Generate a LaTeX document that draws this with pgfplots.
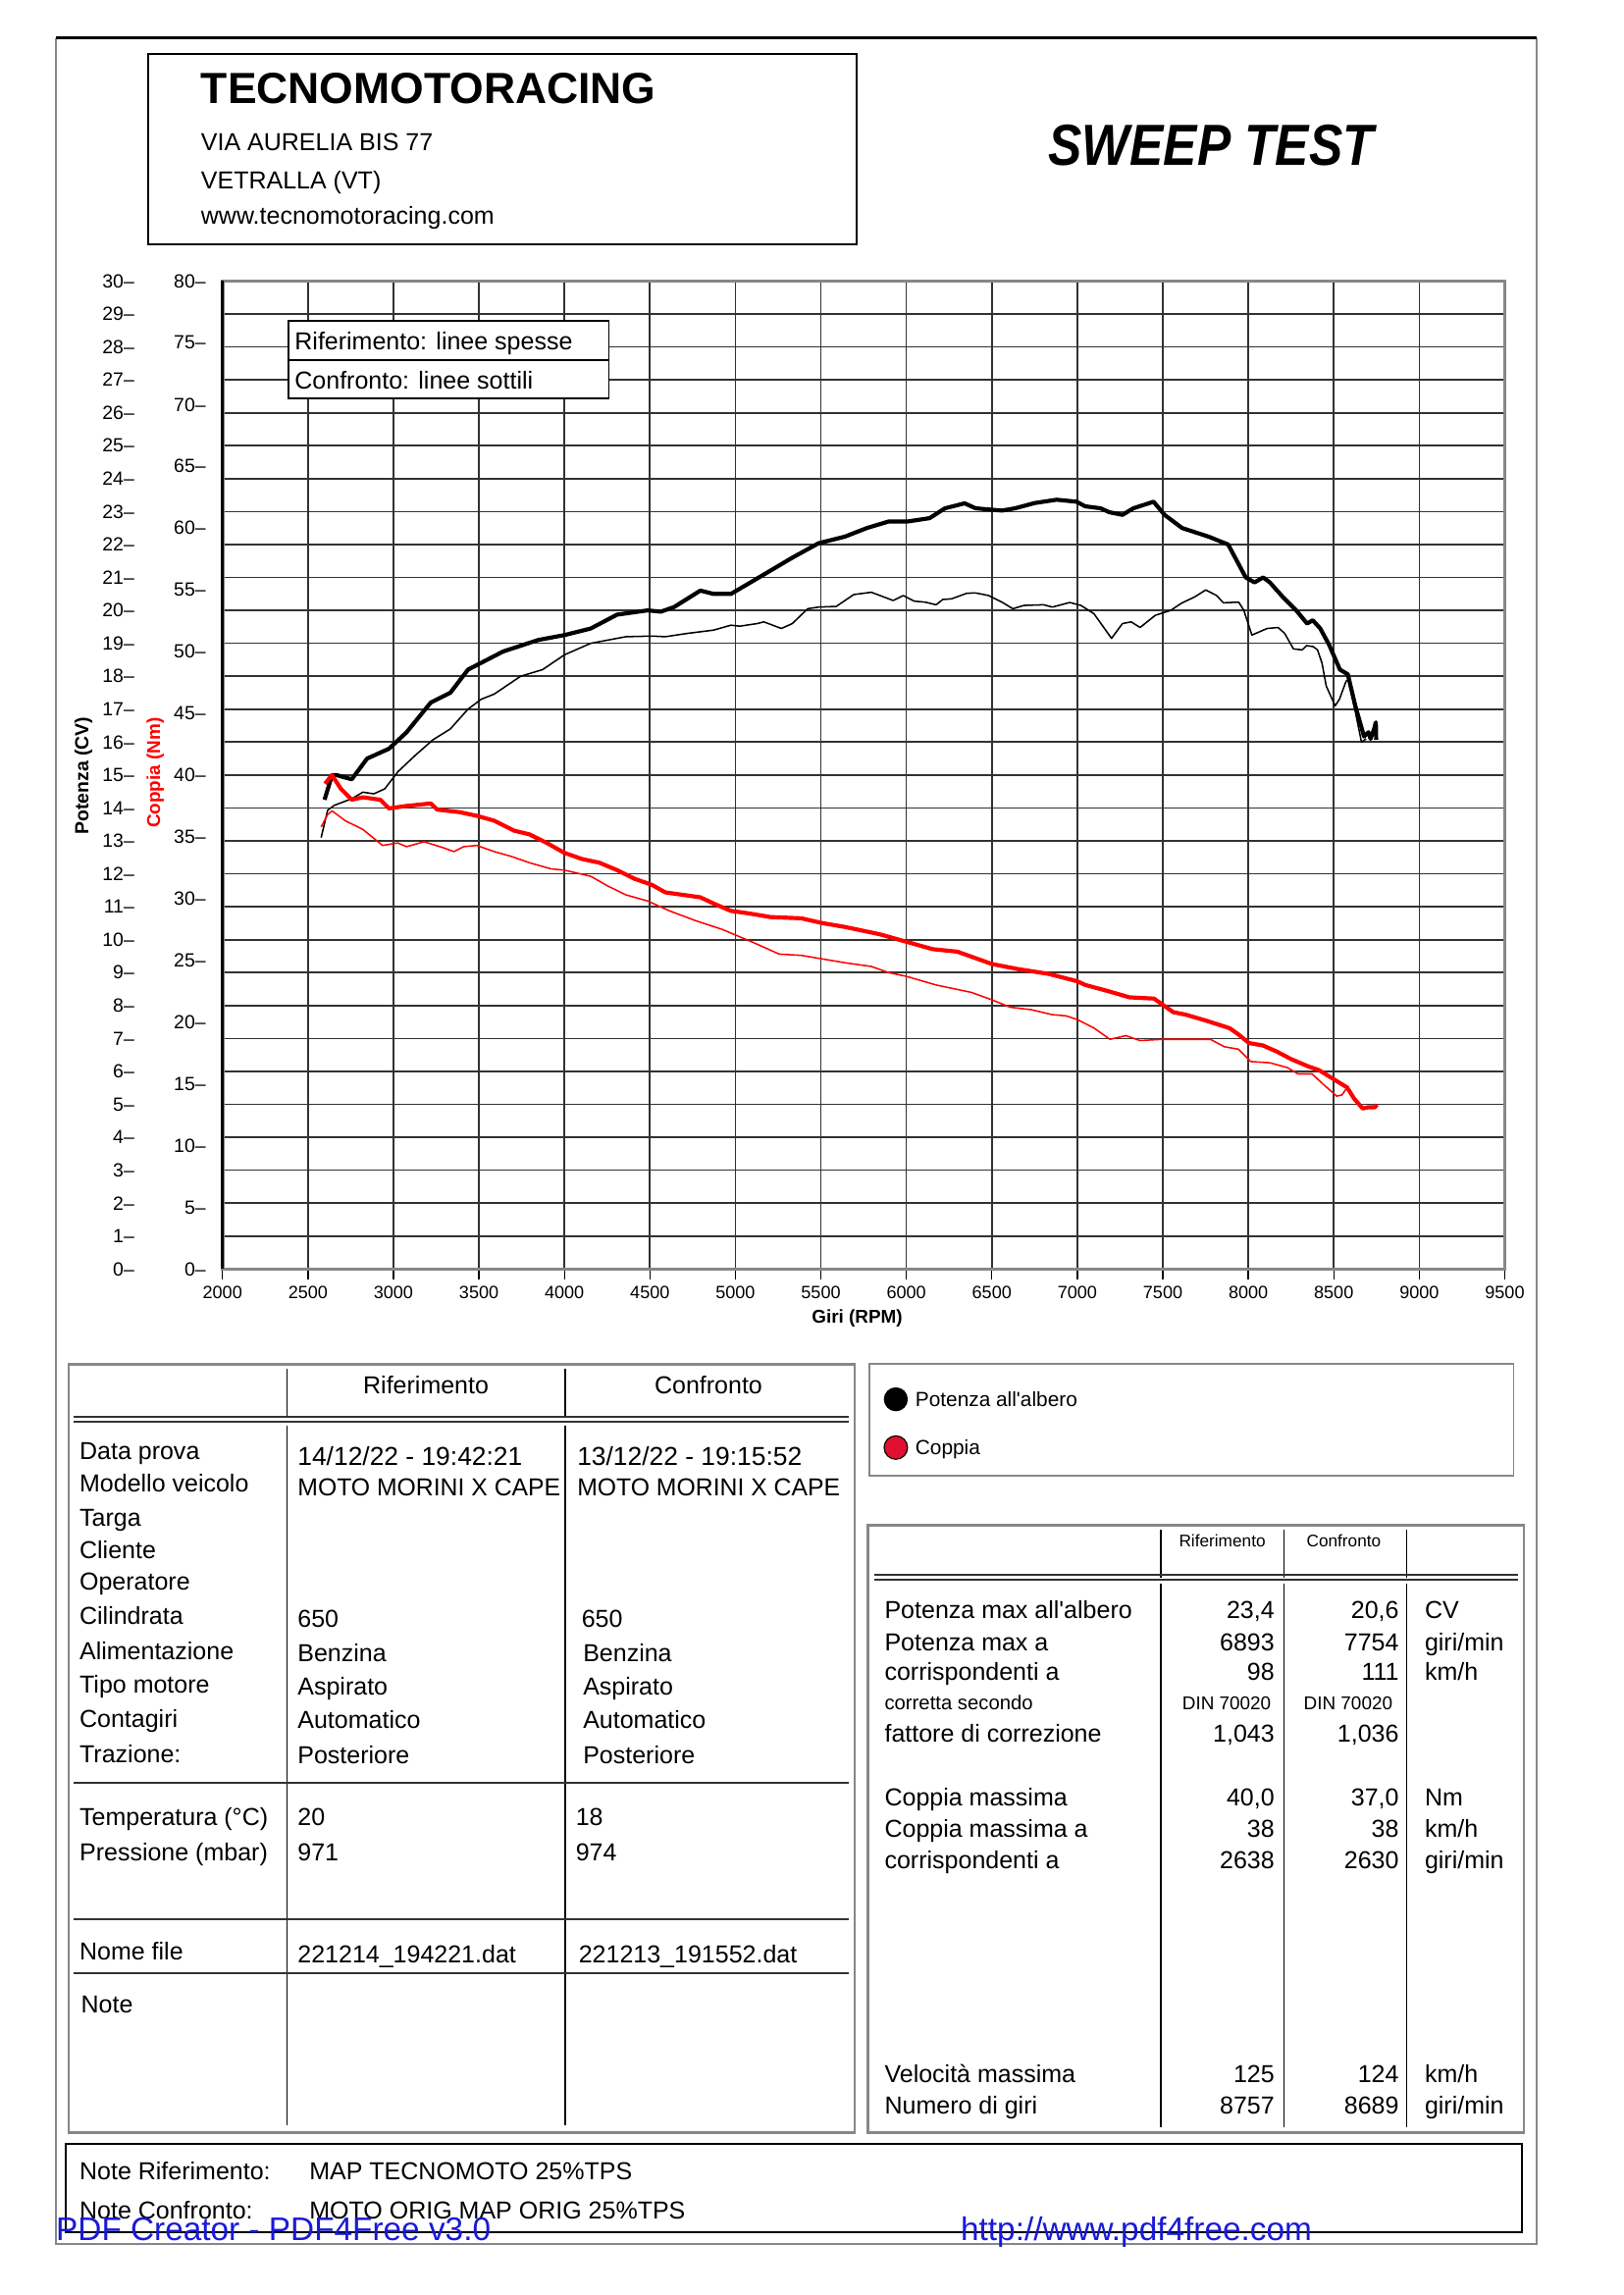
\documentclass[border=0pt]{standalone}
\usepackage{fontspec}
\setmainfont{Liberation Sans}
\usepackage{pgfplots}
\pgfplotsset{compat=1.18}
\newcommand{\fs}[1]{\fontsize{#1}{#1}\selectfont}
\definecolor{crim}{RGB}{225,15,50}
\definecolor{wm}{RGB}{25,25,215}
\definecolor{gridc}{RGB}{50,50,50}
\definecolor{framec}{RGB}{135,135,135}
\tikzset{
  t9/.style={anchor=base west, inner sep=0pt, font=\fs{9}},
  t9r/.style={anchor=base east, inner sep=0pt, font=\fs{9}},
  t9c/.style={anchor=base, inner sep=0pt, font=\fs{9}},
}
\begin{document}
\begin{tikzpicture}
\path[use as bounding box] (0pt,0pt) rectangle (595.31pt,-841.70pt);

% ---------- power axis (CV) ----------
\begin{axis}[
  at={(81.59pt,-465.41pt)}, anchor=south west,
  scale only axis, width=470.24pt, height=362.34pt,
  xmin=2000, xmax=9500, ymin=0, ymax=30,
  xtick={2000,2500,...,9500}, ytick={0,1,...,30},
  xtick pos=bottom,
  scaled x ticks=false,
  /pgf/number format/assume math mode=true,
  /pgf/number format/1000 sep={},
  grid=major, major grid style={gridc, line width=0.6pt},
  axis line style={framec, line width=1.3pt},
  tick align=outside, major tick length=4pt,
  xtick style={black, line width=0.5pt},
  ytick style={draw=none},
  xticklabel style={font=\fs{6.5}, anchor=center, yshift=-4.5pt},
  yticklabel={\pgfmathprintnumber{\tick}--},
  yticklabel style={font=\fs{7}, anchor=east, xshift=-24.8pt},
  xlabel={Giri (RPM)},
  xlabel style={font=\bfseries\fs{6.8}, at={(axis description cs:0.495,0)}, anchor=center, yshift=-18.2pt},
  clip=true,
]
% reference power (thick)
\addplot[black, line width=1.5pt, line join=round] coordinates {
(2597,14.25) (2641,15.0) (2667,15.0) (2700,14.95) (2756,14.87) (2846,15.5) (2974,15.8)
(3077,16.3) (3218,17.2) (3333,17.5) (3436,18.2) (3641,18.75) (3846,19.1) (4000,19.25)
(4154,19.45) (4308,19.87) (4487,20.0) (4564,19.96) (4641,20.1) (4795,20.6) (4872,20.5)
(4974,20.5) (5128,20.97) (5333,21.6) (5487,22.04) (5641,22.24) (5769,22.5) (5897,22.7)
(6008,22.7) (6136,22.8) (6226,23.1) (6341,23.25) (6405,23.1) (6559,23.03) (6636,23.1)
(6751,23.26) (6879,23.36) (6995,23.3) (7046,23.16) (7136,23.1) (7187,22.98) (7264,22.9)
(7328,23.1) (7446,23.3) (7510,22.9) (7613,22.5) (7767,22.24) (7882,22.0) (7985,21.0)
(8036,20.85) (8087,21.0) (8126,20.85) (8203,20.4) (8280,20.0) (8344,19.6) (8377,19.7)
(8421,19.45) (8472,18.96) (8536,18.2) (8582,18.06) (8626,17.1) (8677,16.17) (8703,16.3)
(8715,16.1) (8736,16.4) (8746,16.6) (8748,16.07)
};
% comparison power (thin)
\addplot[black, line width=0.55pt, line join=round] coordinates {
(2577,13.1) (2615,13.93) (2654,14.08) (2756,14.28) (2821,14.48) (2885,14.43) (2949,14.58)
(3026,15.1) (3128,15.6) (3231,16.07) (3333,16.4) (3436,17.0) (3513,17.3) (3590,17.46)
(3744,18.0) (3872,18.2) (4000,18.65) (4154,19.0) (4359,19.2) (4513,19.22) (4590,19.2)
(4718,19.3) (4872,19.4) (4974,19.55) (5026,19.52) (5128,19.6) (5167,19.65) (5269,19.45)
(5333,19.6) (5423,20.05) (5487,20.1) (5590,20.12) (5692,20.48) (5795,20.55) (5923,20.3)
(5982,20.45) (6046,20.28) (6110,20.25) (6174,20.17) (6213,20.33) (6264,20.35) (6354,20.52)
(6405,20.53) (6482,20.45) (6559,20.25) (6623,20.05) (6687,20.15) (6803,20.17) (6854,20.1)
(6956,20.24) (7021,20.15) (7097,19.9) (7200,19.15) (7264,19.6) (7315,19.65) (7367,19.48)
(7456,19.85) (7546,20.0) (7610,20.22) (7687,20.41) (7751,20.62) (7815,20.45) (7854,20.23)
(7944,20.25) (7974,20.0) (8021,19.25) (8110,19.45) (8174,19.48) (8213,19.3) (8264,18.83)
(8315,18.8) (8341,18.93) (8379,18.9) (8405,18.8) (8431,18.4) (8456,17.7) (8508,17.1)
(8533,17.3) (8572,17.85) (8585,17.9) (8623,17.0) (8662,16.0) (8689,16.1)
};
\end{axis}

% ---------- torque axis (Nm) ----------
\begin{axis}[
  at={(81.59pt,-465.41pt)}, anchor=south west,
  scale only axis, width=470.24pt, height=362.34pt,
  xmin=2000, xmax=9500, ymin=0, ymax=80,
  hide x axis, axis y line*=left,
  y axis line style={draw=none},
  /pgf/number format/assume math mode=true,
  ytick={0,5,...,80}, ytick style={draw=none},
  tick align=outside, major tick length=4pt,
  yticklabel={\pgfmathprintnumber{\tick}--},
  yticklabel style={font=\fs{7}, anchor=east, xshift=1.4pt},
  clip=true,
]
% reference torque (thick)
\addplot[red, line width=1.5pt, line join=round] coordinates {
(2600,39.3) (2640,40.0) (2692,38.9) (2756,38.0) (2821,38.2) (2923,38.0) (2974,37.3)
(3077,37.5) (3218,37.7) (3256,37.2) (3385,37.0) (3487,36.7) (3590,36.3) (3705,35.5)
(3795,35.2) (3897,34.5) (4000,33.7) (4103,33.2) (4205,32.9) (4308,32.3) (4410,31.6)
(4513,31.1) (4590,30.5) (4692,30.3) (4795,30.1) (4872,29.6) (4974,29.0) (5077,28.8)
(5205,28.5) (5385,28.4) (5513,28.0) (5641,27.7) (5846,27.1) (6000,26.5) (6154,25.9)
(6298,25.7) (6500,24.7) (6648,24.3) (6832,23.9) (7000,23.3) (7047,23.0) (7181,22.5)
(7305,22.0) (7448,21.9) (7500,21.4) (7561,20.8) (7633,20.6) (7756,20.1) (7891,19.5)
(7942,19.0) (8004,18.3) (8086,18.1) (8168,17.6) (8250,17.0) (8352,16.4) (8414,16.1)
(8496,15.4) (8578,14.7) (8619,13.8) (8669,13.0) (8700,13.1) (8741,13.1) (8752,13.3)
};
% comparison torque (thin)
\addplot[red, line width=0.55pt, line join=round] coordinates {
(2577,35.8) (2615,36.8) (2641,37.1) (2718,36.3) (2821,35.6) (2936,34.3) (3026,34.5)
(3077,34.2) (3179,34.6) (3295,34.1) (3354,33.8) (3410,34.2) (3487,34.3) (3590,33.8)
(3692,33.4) (3795,32.9) (3923,32.4) (4000,32.3) (4154,31.8) (4256,31.0) (4359,30.3)
(4487,29.8) (4615,29.0) (4769,28.2) (4923,27.5) (5026,26.9) (5128,26.3) (5256,25.5)
(5385,25.4) (5513,25.1) (5641,24.8) (5795,24.5) (5897,24.0) (6000,23.7) (6174,23.0)
(6277,22.7) (6380,22.4) (6500,21.8) (6607,21.2) (6730,21.0) (6852,20.6) (6934,20.5)
(7000,20.2) (7099,19.5) (7191,18.6) (7284,18.9) (7366,18.5) (7500,18.6) (7778,18.6)
(7860,18.0) (7942,17.8) (8014,16.8) (8127,16.7) (8230,16.3) (8291,15.8) (8373,15.8)
(8435,15.0) (8517,14.0) (8548,14.1) (8578,14.7) (8619,13.8) (8660,13.1) (8689,13.0)
};
\end{axis}

% ---------- page decorations in reference pixel units ----------
\begin{scope}[x=0.5368pt, y=-0.5368pt]
% page frame
\draw[framec, line width=0.6pt] (38,26) -- (38,1533) -- (1050,1533) -- (1050,26);
\draw[black, line width=1.2pt] (38,26) -- (1050,26);
% left axis line black
\draw[black, line width=0.9pt] (152,192) -- (152,867);

% header box
\draw[black, line width=0.7pt] (101,37) rectangle (585,167);
\node[anchor=base west, inner sep=0pt, font=\bfseries\fs{16}] at (137,71) {TECNOMOTORACING};
\node[t9] at (137,103) {VIA AURELIA BIS 77};
\node[t9] at (137,129) {VETRALLA (VT)};
\node[t9] at (137,153) {www.tecnomotoracing.com};
\node[anchor=base west, inner sep=0pt, font=\bfseries\itshape\fs{18.5}] at (716,113) {\scalebox{1}[1.15]{SWEEP TEST}};

% axis titles
\node[rotate=90, inner sep=0pt, font=\bfseries\fs{7}] at (57,530) {Potenza (CV)};
\node[rotate=90, inner sep=0pt, font=\bfseries\fs{6.8}, text=red] at (106,528) {Coppia (Nm)};

% legend inside plot
\draw[black, line width=0.6pt, fill=white] (197,219) rectangle (416,272);
\draw[black, line width=0.6pt] (197,246) -- (416,246);
\node[t9] at (201,239) {Riferimento: linee spesse};
\node[t9] at (201,266) {Confronto: linee sottili};

% ---------- left table ----------
\draw[framec, line width=0.9pt] (47,932) rectangle (584,1457);
\draw[black, line width=0.5pt] (196,935) -- (196,968) (386,935) -- (386,968);
\draw[black, line width=0.5pt] (196,974) -- (196,1452) (386,974) -- (386,1452);
\draw[gridc, line width=0.8pt] (50,968) -- (580,968) (50,971.5) -- (580,971.5);
\draw[gridc, line width=0.7pt] (50,1218) -- (580,1218) (50,1311) -- (580,1311) (50,1348) -- (580,1348);
\node[t9c] at (291,952) {Riferimento};
\node[t9c] at (484,952) {Confronto};
\node[t9] at (54,997) {Data prova};
\node[t9] at (54,1019) {Modello veicolo};
\node[t9] at (54,1043) {Targa};
\node[t9] at (54,1065) {Cliente};
\node[t9] at (54,1086) {Operatore};
\node[t9] at (54,1110) {Cilindrata};
\node[t9] at (54,1134) {Alimentazione};
\node[t9] at (54,1157) {Tipo motore};
\node[t9] at (54,1180) {Contagiri};
\node[t9] at (54,1204) {Trazione:};
\node[t9] at (54,1247) {Temperatura (°C)};
\node[t9] at (54,1271) {Pressione (mbar)};
\node[t9] at (54,1339) {Nome file};
\node[t9] at (55,1375) {Note};
\node[t9, font=\fs{9.5}] at (203,1001) {14/12/22 - 19:42:21};
\node[t9] at (203,1022) {\scalebox{0.99}[1]{MOTO MORINI X CAPE}};
\node[t9] at (203,1112) {650};
\node[t9] at (203,1135) {Benzina};
\node[t9] at (203,1158) {Aspirato};
\node[t9] at (203,1181) {Automatico};
\node[t9] at (203,1205) {Posteriore};
\node[t9] at (203,1247) {20};
\node[t9] at (203,1271) {971};
\node[t9] at (203,1341) {221214\_194221.dat};
\node[t9, font=\fs{9.5}] at (394,1001) {13/12/22 - 19:15:52};
\node[t9] at (394,1022) {\scalebox{0.99}[1]{MOTO MORINI X CAPE}};
\node[t9] at (397,1112) {650};
\node[t9] at (398,1135) {Benzina};
\node[t9] at (398,1158) {Aspirato};
\node[t9] at (398,1181) {Automatico};
\node[t9] at (398,1205) {Posteriore};
\node[t9] at (393,1247) {18};
\node[t9] at (393,1271) {974};
\node[t9] at (395,1341) {221213\_191552.dat};

% ---------- right legend ----------
\draw[framec, line width=0.6pt] (594,932) rectangle (1034,1008);
\fill[black] (612,956) circle[radius=4.4pt];
\filldraw[fill=crim, draw=black, line width=0.4pt] (612,989) circle[radius=4.3pt];
\node[anchor=base west, inner sep=0pt, font=\fs{7.5}] at (625,961) {Potenza all\textquotesingle albero};
\node[anchor=base west, inner sep=0pt, font=\fs{7.5}] at (625,994) {Coppia};

% ---------- right table ----------
\draw[framec, line width=0.9pt] (593,1042) rectangle (1041,1457);
\draw[black, line width=0.5pt] (793,1045) -- (793,1078) (877,1045) -- (877,1078) (961,1045) -- (961,1078);
\draw[black, line width=0.5pt] (793,1082) -- (793,1453) (877,1082) -- (877,1453) (961,1082) -- (961,1453);
\draw[gridc, line width=0.8pt] (597,1076) -- (1037,1076) (597,1079.5) -- (1037,1079.5);
\node[anchor=base, inner sep=0pt, font=\fs{6.2}] at (835,1057) {Riferimento};
\node[anchor=base, inner sep=0pt, font=\fs{6.2}] at (918,1057) {Confronto};
\node[t9] at (604,1106) {Potenza max all\textquotesingle albero};
\node[t9] at (604,1128) {Potenza max a};
\node[t9] at (604,1148) {corrispondenti a};
\node[anchor=base west, inner sep=0pt, font=\fs{7.3}] at (604,1168) {corretta secondo};
\node[t9] at (604,1190) {fattore di correzione};
\node[t9] at (604,1234) {Coppia massima};
\node[t9] at (604,1255) {Coppia massima a};
\node[t9] at (604,1277) {corrispondenti a};
\node[t9] at (604,1423) {Velocità massima};
\node[t9] at (604,1444) {Numero di giri};
% col 1
\node[t9r] at (871,1106) {23,4};
\node[t9r] at (871,1128) {6893};
\node[t9r] at (871,1148) {98};
\node[anchor=base, inner sep=0pt, font=\fs{6.8}] at (838,1168) {DIN 70020};
\node[t9r] at (871,1190) {1,043};
\node[t9r] at (871,1234) {40,0};
\node[t9r] at (871,1255) {38};
\node[t9r] at (871,1277) {2638};
\node[t9r] at (871,1423) {125};
\node[t9r] at (871,1444) {8757};
% col 2
\node[t9r] at (956,1106) {20,6};
\node[t9r] at (956,1128) {7754};
\node[t9r] at (956,1148) {111};
\node[anchor=base, inner sep=0pt, font=\fs{6.8}] at (921,1168) {DIN 70020};
\node[t9r] at (956,1190) {1,036};
\node[t9r] at (956,1234) {37,0};
\node[t9r] at (956,1255) {38};
\node[t9r] at (956,1277) {2630};
\node[t9r] at (956,1423) {124};
\node[t9r] at (956,1444) {8689};
% units
\node[t9] at (973,1106) {CV};
\node[t9] at (973,1128) {giri/min};
\node[t9] at (973,1148) {km/h};
\node[t9] at (973,1234) {Nm};
\node[t9] at (973,1255) {km/h};
\node[t9] at (973,1277) {giri/min};
\node[t9] at (973,1423) {km/h};
\node[t9] at (973,1444) {giri/min};

% ---------- note box ----------
\draw[black, line width=0.7pt] (45,1465) rectangle (1040,1525);
\node[t9] at (54,1489) {Note Riferimento:};
\node[t9] at (211,1489) {MAP TECNOMOTO 25\%TPS};
\node[t9] at (54,1516) {Note Confronto:};
\node[t9] at (211,1516) {MOTO ORIG MAP ORIG 25\%TPS};

% ---------- watermark ----------
\node[anchor=base west, inner sep=0pt, font=\fs{12}, text=wm] at (38,1531) {PDF Creator - PDF4Free v3.0};
\node[anchor=base west, inner sep=0pt, font=\fs{12}, text=wm] at (656,1531) {http://www.pdf4free.com};
\end{scope}
\end{tikzpicture}
\end{document}
